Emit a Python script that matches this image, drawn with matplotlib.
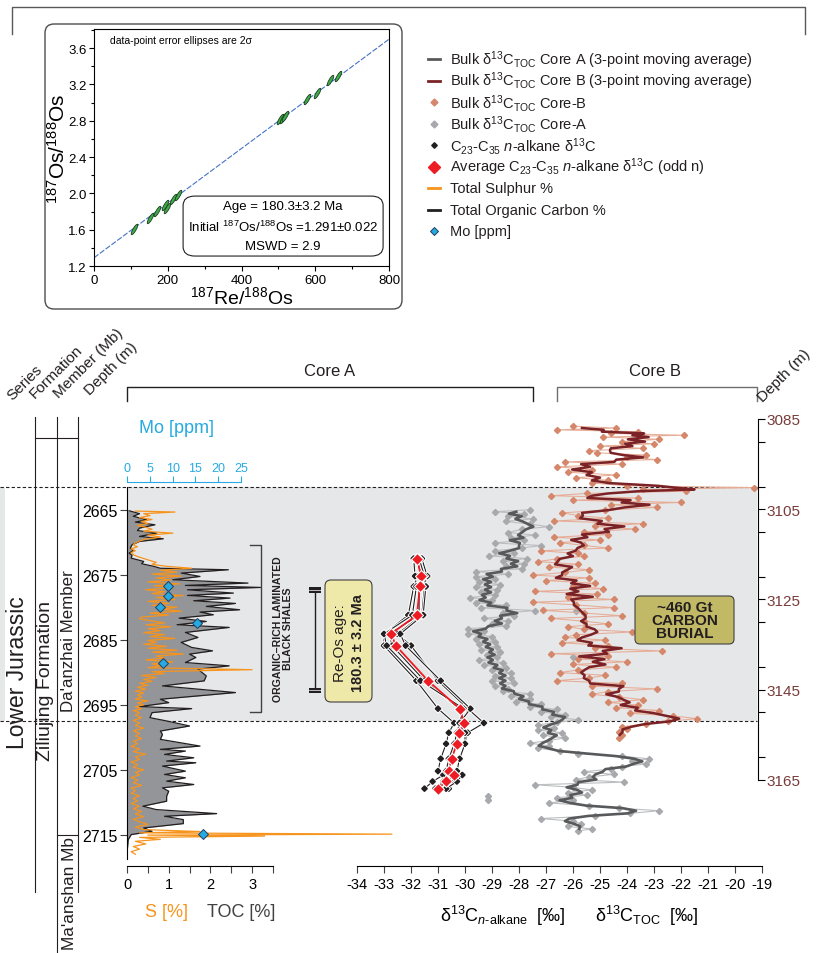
import matplotlib.pyplot as plt
import matplotlib.patheffects as pe
import numpy as np
from matplotlib.markers import MarkerStyle
from matplotlib.patches import FancyBboxPatch, Rectangle
from matplotlib.path import Path
from matplotlib.ticker import MultipleLocator
from matplotlib.transforms import Affine2D, blended_transform_factory

plt.rcParams['font.family'] = ['Liberation Sans', 'DejaVu Sans']
plt.rcParams['mathtext.fontset'] = 'custom'
plt.rcParams['mathtext.rm'] = 'Liberation Sans'
plt.rcParams['mathtext.it'] = 'Liberation Sans:italic'
plt.rcParams['mathtext.bf'] = 'Liberation Sans:bold'
plt.rcParams['axes.unicode_minus'] = False

# ---------------- Re-Os isochron ----------------
re_os_ratio = [109, 152, 172, 193, 197, 215, 227, 505, 512, 518, 577, 604, 640, 662]
os_os_ratio = [1.612, 1.733, 1.806, 1.869, 1.843, 1.935, 1.979,
               2.820, 2.835, 2.854, 3.040, 3.110, 3.247, 3.288]
iso_age, iso_age_err = 180.3, 3.2          # Ma
os_initial, os_initial_err = 1.291, 0.022
mswd = 2.9
RE187_DECAY = 1.666e-11                    # 1/yr

# ---------------- Core A: TOC, S, Mo ----------------
toc_depth = [2665.15, 2665.6, 2666.0, 2666.54, 2666.9, 2667.31, 2667.82, 2668.2, 2668.59, 2669.1,
             2669.46, 2669.87, 2670.38, 2670.9, 2671.3, 2671.67, 2672.0, 2672.44, 2672.95, 2673.3,
             2673.72, 2674.0, 2674.23, 2674.74, 2675.26, 2675.77, 2676.28, 2676.64, 2676.95, 2677.31,
             2677.82, 2678.18, 2678.59, 2679.0, 2679.41, 2679.87, 2680.38, 2680.74, 2681.15, 2681.67,
             2682.18, 2682.69, 2683.1, 2683.87, 2684.64, 2685.41, 2686.18, 2686.7, 2687.21, 2687.72,
             2688.5, 2689.01, 2689.52, 2690.04, 2690.55, 2691.32, 2692.1, 2693.12, 2694.15, 2694.67,
             2695.28, 2695.59, 2696.21, 2696.98, 2697.49, 2698.26, 2699.04, 2699.55, 2700.32, 2701.35,
             2701.86, 2702.12, 2702.64, 2703.15, 2703.66, 2703.92, 2704.43, 2705.21, 2705.72, 2706.23,
             2706.75, 2707.26, 2707.78, 2708.29, 2709.06, 2709.83, 2710.6, 2711.12, 2711.74, 2712.15,
             2712.66, 2713.28, 2713.95, 2714.46, 2714.97, 2715.74, 2717.8]
toc_pct = [0.05, 0.3, 0.15, 0.47, 0.2, 0.67, 0.3, 0.25, 0.71, 0.3,
           0.87, 0.3, 0.12, 0.08, 0.15, 0.05, 0.12, 0.1, 0.4, 0.35,
           0.65, 0.8, 2.43, 1.3, 1.75, 1.1, 2.9, 1.4, 3.2, 1.45,
           2.55, 1.45, 2.47, 1.6, 2.6, 1.9, 2.7, 1.75, 2.07, 1.25,
           1.9, 1.2, 2.45, 1.4, 1.7, 1.3, 1.55, 2.05, 1.5, 1.65,
           1.4, 2.45, 1.7, 1.8, 1.9, 1.85, 0.85, 2.6, 0.8, 1.0,
           0.3, 1.55, 0.6, 0.55, 0.95, 1.5, 0.8, 0.85, 0.8, 1.75,
           0.8, 1.4, 0.9, 1.6, 0.95, 1.65, 0.85, 1.4, 0.9, 1.4,
           0.95, 1.6, 0.85, 1.0, 0.95, 0.95, 0.38, 0.7, 2.15, 0.9,
           1.35, 1.35, 0.4, 0.6, 0.1, 0.03, 0.0]

s_depth = [2665.2, 2665.35, 2665.6, 2665.9, 2666.2, 2666.5, 2666.8, 2667.1, 2667.4, 2667.7,
           2668.0, 2668.3, 2668.6, 2668.9, 2669.2, 2669.5, 2669.8, 2670.1, 2670.4, 2670.7,
           2671.0, 2671.3, 2671.6, 2671.9, 2672.2, 2672.5, 2672.8, 2673.1, 2673.4, 2673.7,
           2674.0, 2674.3, 2674.6, 2674.9, 2675.2, 2675.5, 2675.8, 2676.1, 2676.4, 2676.7,
           2677.0, 2677.3, 2677.6, 2677.9, 2678.2, 2678.5, 2678.8, 2679.1, 2679.4, 2679.7,
           2680.0, 2680.3, 2680.6, 2680.9, 2681.2, 2681.5, 2681.8, 2682.1, 2682.4, 2682.7,
           2683.0, 2683.3, 2683.6, 2683.9, 2684.2, 2684.5, 2684.8, 2685.1, 2685.4, 2685.7,
           2686.0, 2686.3, 2686.6, 2686.9, 2687.2, 2687.5, 2687.8, 2688.1, 2688.4, 2688.7,
           2689.0, 2689.3, 2689.6, 2689.9, 2690.2, 2690.5, 2690.8, 2691.1, 2691.4, 2691.7,
           2692.0, 2692.3, 2692.6, 2692.9, 2693.2, 2693.5, 2693.8, 2694.1, 2694.4, 2694.7,
           2695.0, 2695.3, 2695.6, 2695.9, 2696.2, 2696.6, 2697.0, 2697.4, 2697.8, 2698.2,
           2698.6, 2699.0, 2699.4, 2699.8, 2700.2, 2700.6, 2701.0, 2701.4, 2701.8, 2702.2,
           2702.6, 2703.0, 2703.4, 2703.8, 2704.2, 2704.6, 2705.0, 2705.4, 2705.8, 2706.2,
           2706.6, 2707.0, 2707.4, 2707.8, 2708.2, 2708.6, 2709.0, 2709.4, 2709.8, 2710.2,
           2710.6, 2711.0, 2711.4, 2711.8, 2712.2, 2712.6, 2713.0, 2713.4, 2713.8, 2714.2,
           2714.5, 2714.7, 2714.9, 2715.05, 2715.2, 2715.4, 2715.7, 2716.0, 2716.4, 2716.8,
           2717.2, 2717.6, 2718.0]
s_pct = [0.2, 1.15, 0.4, 0.55, 0.3, 0.6, 0.35, 0.5, 0.25, 0.45,
         0.6, 0.4, 1.1, 0.5, 0.8, 0.45, 0.3, 0.2, 0.15, 0.25,
         0.1, 0.2, 0.1, 0.15, 0.25, 0.4, 0.55, 0.7, 0.6, 0.95,
         1.55, 0.8, 1.2, 0.6, 1.3, 0.7, 1.05, 0.5, 1.25, 0.65,
         1.1, 0.45, 0.9, 0.6, 1.35, 0.7, 1.15, 0.5, 1.0, 0.6,
         1.2, 0.8, 1.3, 0.55, 1.0, 0.35, 0.3, 0.6, 0.9, 0.45,
         1.05, 0.5, 0.8, 0.4, 0.9, 0.55, 1.15, 0.5, 0.7, 0.4,
         0.95, 0.5, 1.2, 0.6, 1.35, 0.7, 0.9, 0.45, 1.1, 0.6,
         0.8, 0.5, 3.0, 0.6, 0.9, 0.35, 0.7, 0.4, 0.6, 0.3,
         0.5, 0.25, 0.45, 0.2, 0.4, 0.25, 0.35, 0.2, 0.5, 0.25,
         0.4, 0.2, 0.35, 0.15, 0.3, 0.2, 0.35, 0.15, 0.3, 0.2,
         0.4, 0.15, 0.3, 0.2, 0.35, 0.15, 0.25, 0.1, 0.3, 0.15,
         0.45, 0.2, 0.3, 0.1, 0.25, 0.15, 0.4, 0.2, 0.3, 0.1,
         0.25, 0.15, 0.35, 0.1, 0.2, 0.1, 0.3, 0.15, 0.25, 0.1,
         0.3, 0.15, 0.35, 0.2, 0.4, 0.15, 0.3, 0.5, 0.2, 0.4,
         1.75, 0.3, 6.35, 0.5, 3.3, 0.3, 0.8, 0.2, 0.45, 0.15,
         0.3, 0.1, 0.2]

mo_depth = [2676.7, 2678.2, 2679.9, 2682.4, 2688.5, 2714.85]
mo_ppm = [9.0, 9.0, 7.3, 15.3, 7.9, 16.7]

# ---------------- Core A: bulk d13C TOC ----------------
core_a_depth = [2665.0, 2665.3, 2665.6, 2666.0, 2666.4, 2666.8, 2667.2, 2667.6, 2668.0, 2668.5,
                2668.9, 2669.3, 2669.7, 2670.1, 2670.5, 2670.9, 2671.3, 2671.7, 2672.1, 2672.5,
                2672.9, 2673.3, 2673.7, 2674.1, 2674.5, 2674.9, 2675.3, 2675.7, 2676.1, 2676.5,
                2676.9, 2677.3, 2677.7, 2678.1, 2678.5, 2678.9, 2679.3, 2679.7, 2680.1, 2680.5,
                2680.9, 2681.3, 2681.7, 2682.1, 2682.5, 2682.9, 2683.3, 2683.7, 2684.1, 2684.5,
                2684.9, 2685.3, 2685.7, 2686.1, 2686.5, 2686.9, 2687.3, 2687.7, 2688.1, 2688.5,
                2688.9, 2689.3, 2689.7, 2690.1, 2690.5, 2690.9, 2691.3, 2691.7, 2692.1, 2692.5,
                2692.9, 2693.3, 2693.7, 2694.1, 2694.5, 2694.9, 2695.3, 2695.7, 2696.1, 2696.5,
                2696.9, 2697.3, 2697.7, 2698.1, 2698.5, 2698.9, 2699.3, 2699.7, 2700.1, 2700.5,
                2700.9, 2701.3, 2701.7, 2702.1, 2702.5, 2702.9, 2703.3, 2703.7, 2704.1, 2704.5,
                2704.9, 2705.3, 2705.7, 2706.1, 2706.5, 2706.9, 2707.3, 2707.7, 2708.1, 2708.5,
                2708.9, 2709.3, 2709.7, 2710.1, 2710.5, 2710.9, 2711.3, 2711.7, 2712.1, 2712.5,
                2712.9, 2713.3, 2713.7, 2714.1, 2714.4]
core_a_d13c = [-27.6, -28.9, -27.8, -28.4, -27.5, -28.5, -27.6, -26.9, -27.9, -28.4,
               -27.4, -28.3, -27.8, -28.9, -27.2, -27.9, -28.9, -28.2, -29.1, -27.7,
               -28.6, -27.8, -28.5, -27.9, -29.6, -28.4, -29.6, -28.9, -29.5, -28.7,
               -29.6, -28.8, -29.4, -28.9, -29.8, -29.0, -29.6, -28.5, -29.4, -27.4,
               -28.6, -28.2, -29.3, -28.4, -29.0, -28.5, -29.9, -29.3, -29.9, -29.0,
               -29.6, -28.9, -29.5, -28.8, -29.4, -28.7, -29.2, -28.8, -29.5, -28.6,
               -29.3, -28.5, -29.0, -28.3, -28.9, -28.3, -29.0, -28.2, -28.9, -28.4,
               -28.6, -27.6, -28.3, -27.6, -28.1, -27.2, -27.6, -26.6, -27.2, -26.3,
               -26.8, -25.8, -26.6, -27.3, -26.7, -27.3, -26.4, -27.1, -26.3, -26.9,
               -27.6, -26.9, -27.3, -26.5, -25.8, -24.2, -23.2, -23.8, -23.3, -24.2,
               -24.6, -25.6, -24.5, -25.4, -25.9, -24.1, -27.4, -26.0, -25.3, -26.2,
               -25.5, -26.6, -26.0, -26.9, -25.4, -24.3, -22.8, -23.9, -25.2, -27.2,
               -26.0, -25.7, -26.2, -25.3, -25.8]
# isolated Core A samples, not part of the continuous profile
core_a_single_depth = [2680.5, 2687.6, 2709.0, 2709.7]
core_a_single_d13c = [-25.9, -26.0, -29.15, -29.15]

# ---------------- Core A: n-alkanes (C23..C35, five odd homologues) ----------------
alk_depth = [2672.5, 2675.2, 2676.8, 2681.2, 2684.1, 2685.9, 2691.3, 2695.6,
             2697.8, 2699.3, 2701.0, 2703.3, 2705.2, 2705.8, 2706.8, 2707.9]
alk_d13c = [[-31.9, -31.6, -31.8, -31.7, -31.9],
            [-31.8, -31.4, -31.6, -31.5, -31.85],
            [-31.9, -31.5, -31.7, -31.45, -31.8],
            [-32.1, -31.6, -31.7, -31.55, -31.95],
            [-33.0, -32.5, -32.8, -32.4, -33.0],
            [-33.0, -32.0, -32.7, -32.2, -32.9],
            [-31.8, -31.0, -31.5, -30.9, -31.65],
            [-31.0, -29.9, -30.2, -29.8, -30.05],
            [-30.4, -29.3, -30.1, -30.2, -30.2],
            [-30.6, -29.9, -30.3, -30.0, -30.3],
            [-30.7, -30.0, -30.4, -30.0, -30.4],
            [-30.9, -30.2, -30.6, -30.2, -30.6],
            [-31.0, -30.3, -30.7, -30.3, -30.7],
            [-30.8, -30.1, -30.5, -30.1, -30.5],
            [-31.2, -30.4, -30.8, -30.3, -30.8],
            [-31.5, -30.6, -31.1, -30.7, -31.1]]

# ---------------- Core B: bulk d13C TOC ----------------
core_b_depth = [3086.6, 3087.0, 3087.4, 3087.8, 3088.2, 3088.6, 3089.0, 3089.5, 3090.0, 3090.5,
                3091.0, 3091.5, 3092.0, 3092.5, 3093.0, 3093.5, 3094.0, 3094.5, 3095.0, 3095.6,
                3096.2, 3096.8, 3097.4, 3098.0, 3098.6, 3099.2, 3099.8, 3100.2, 3100.6, 3101.0,
                3101.5, 3102.0, 3102.5, 3103.0, 3103.5, 3104.0, 3104.6, 3105.2, 3105.8, 3106.4,
                3107.0, 3107.6, 3108.2, 3108.8, 3109.4, 3110.0, 3110.6, 3111.2, 3111.8, 3112.4,
                3113.0, 3113.6, 3114.2, 3114.8, 3115.4, 3116.0, 3116.6, 3117.2, 3117.8, 3118.4,
                3119.0, 3119.6, 3120.2, 3120.8, 3121.4, 3122.0, 3122.6, 3123.2, 3123.8, 3124.4,
                3125.0, 3125.6, 3126.2, 3126.8, 3127.4, 3128.0, 3128.6, 3129.2, 3129.8, 3130.4,
                3131.0, 3131.6, 3132.2, 3132.8, 3133.4, 3134.0, 3134.6, 3135.2, 3135.8, 3136.4,
                3137.0, 3137.6, 3138.2, 3138.8, 3139.4, 3140.0, 3140.6, 3141.2, 3141.8, 3142.4,
                3143.0, 3143.6, 3144.2, 3144.8, 3145.4, 3146.0, 3146.6, 3147.2, 3147.8, 3148.4,
                3149.0, 3149.6, 3150.2, 3150.8, 3151.4, 3152.0, 3152.6, 3153.2, 3153.8, 3154.4,
                3155.0, 3155.6]
core_b_d13c = [-26.0, -24.4, -26.6, -23.6, -24.6, -21.9, -24.9, -22.8, -24.2, -23.0,
               -25.0, -23.4, -25.4, -25.1, -23.3, -24.0, -22.9, -26.3, -24.2, -26.6,
               -25.3, -26.2, -24.4, -25.9, -24.7, -25.3, -24.0, -19.3, -23.4, -21.8,
               -25.5, -26.8, -23.6, -26.0, -22.0, -24.6, -22.9, -24.8, -26.4, -25.8,
               -24.7, -26.7, -23.4, -25.2, -23.7, -25.6, -24.7, -26.7, -25.0, -26.5,
               -25.6, -24.7, -27.2, -25.8, -25.6, -26.6, -27.3, -25.8, -26.9, -25.4,
               -26.3, -27.5, -25.4, -27.0, -25.2, -26.0, -24.9, -27.4, -25.1, -26.2,
               -24.5, -27.5, -25.9, -24.5, -27.1, -25.6, -24.2, -26.8, -25.6, -24.7,
               -26.2, -25.6, -23.8, -25.9, -26.3, -24.8, -26.4, -24.7, -25.2, -22.7,
               -26.8, -24.7, -25.8, -24.0, -26.0, -24.4, -25.8, -26.5, -24.8, -25.4,
               -26.6, -24.2, -25.3, -22.9, -24.7, -25.3, -24.3, -23.4, -24.7, -23.6,
               -24.4, -22.8, -23.9, -22.3, -21.4, -22.5, -23.3, -24.2, -24.0, -24.3,
               -24.2, -24.3]

# correlated horizons (Core A depth) bounding the carbon-burial interval
horizon_a = [2661.5, 2697.5]
black_shale_a = [2670.4, 2696.1]
reos_sampled_a = [2677.3, 2692.8]
maanshan_top_a = 2715.1

# depth windows of the two core panels
CORE_A_TOP, CORE_A_BOT = 2661.5, 2719.8
CORE_B_TOP, CORE_B_BOT = 3085, 3165

# colours
GREY_BAND = '#e6e7e8'
TOC_FILL = '#939598'
S_ORANGE = '#f7941d'
MO_BLUE = '#27aae1'
A_RAW = '#a7a9ac'
A_MA = '#58595b'
B_RAW = '#d4876b'
B_MA = '#7b2226'
ALK_RED = '#ed1c24'
B_DEPTH_TXT = '#7a3b3b'


def moving_average3(v):
    return np.convolve(v, np.ones(3) / 3, mode='valid')


W, H = 822, 954
fig = plt.figure(figsize=(W / 100, H / 100), dpi=100)


def px_axes(x0, y0, x1, y1):
    # axes from a pixel box measured from the top-left corner
    return fig.add_axes([x0 / W, 1 - y1 / H, (x1 - x0) / W, (y1 - y0) / H])


def canvas(z):
    ax = px_axes(0, 0, W, H)
    ax.set_xlim(0, W)
    ax.set_ylim(H, 0)
    ax.axis('off')
    ax.set_zorder(z)
    return ax


ax_bg = canvas(0)

# ---------------- isochron panel ----------------
ax_bg.add_patch(FancyBboxPatch((45, 25), 357, 285, boxstyle='round,pad=0,rounding_size=9',
                               fc='none', ec='#4d4d4f', lw=1))
ax_bg.plot([12, 12, 805, 805], [35, 8, 8, 35], color='#58595b', lw=1)

ax_iso = px_axes(94, 30, 389, 267)
ax_iso.set_zorder(2)
slope = np.expm1(RE187_DECAY * iso_age * 1e6)
xr = np.array([0, 800])
ax_iso.plot(xr, os_initial + slope * xr, color='#4472c4', lw=0.8, ls=(0, (5, 1.5)))
ell = Path.unit_circle().transformed(Affine2D().scale(0.26, 1.0).rotate_deg(-30))
ax_iso.scatter(re_os_ratio, os_os_ratio, marker=MarkerStyle(ell), s=60,
               fc='#3cae49', ec='#1f3b1f', lw=0.6, zorder=3)
ax_iso.set_xlim(0, 800)
ax_iso.set_ylim(1.2, 3.81)
ax_iso.set_xticks([0, 200, 400, 600, 800])
ax_iso.xaxis.set_minor_locator(MultipleLocator(100))
ax_iso.set_yticks([1.2, 1.6, 2.0, 2.4, 2.8, 3.2, 3.6])
ax_iso.yaxis.set_minor_locator(MultipleLocator(0.2))
ax_iso.tick_params(which='both', labelsize=9.5, length=3.5, width=0.8, pad=2)
ax_iso.tick_params(which='minor', length=2.5)
ax_iso.set_xlabel(r'$^{187}$Re/$^{188}$Os', fontsize=14, labelpad=0)
ax_iso.set_ylabel(r'$^{187}$Os/$^{188}$Os', fontsize=15, labelpad=-1)
ax_iso.text(0.055, 0.975, 'data-point error ellipses are 2σ', transform=ax_iso.transAxes,
            fontsize=7.5, ha='left', va='top')
ax_iso.add_patch(FancyBboxPatch((0.302, 0.042), 0.678, 0.253, transform=ax_iso.transAxes,
                                boxstyle='round,pad=0,rounding_size=0.04', fc='white',
                                ec='#231f20', lw=0.8))
iso_lines = [f'Age = {iso_age}±{iso_age_err} Ma',
             rf'Initial $^{{187}}$Os/$^{{188}}$Os ={os_initial:.3f}±{os_initial_err:.3f}',
             f'MSWD = {mswd}']
for k, txt in enumerate(iso_lines):
    ax_iso.text(0.641, 0.253 - 0.084 * k, txt, transform=ax_iso.transAxes,
                fontsize=9.5, ha='center', va='center')

# ---------------- core panels ----------------
ax_toc = px_axes(127, 488, 273, 867)
ax_d13 = px_axes(357, 488, 762, 867)
ax_b = px_axes(357, 420, 762, 781)
for ax, z in ((ax_toc, 2), (ax_d13, 2), (ax_b, 3)):
    ax.set_facecolor('none')
    ax.set_zorder(z)

tr_a = blended_transform_factory(ax_bg.transData, ax_toc.transData)

# grey carbon-burial interval and its bounding horizons
ax_bg.add_patch(Rectangle((127, horizon_a[0]), 630, horizon_a[1] - horizon_a[0],
                          transform=tr_a, fc=GREY_BAND, ec='none'))
ax_bg.add_patch(Rectangle((0, horizon_a[0]), 5, horizon_a[1] - horizon_a[0],
                          transform=tr_a, fc=GREY_BAND, ec='none'))
for d in horizon_a:
    ax_bg.plot([0, 757], [d, d], transform=tr_a, color='#231f20', lw=0.8, ls=(0, (3, 2)))

# stratigraphic columns
for x, y1 in ((35, 893), (57, 954), (78, 893)):
    ax_bg.plot([x, x], [418, y1], color='#231f20', lw=0.8)
ax_bg.plot([35, 78], [439, 439], color='#231f20', lw=0.8)
ax_bg.plot([57, 78], [maanshan_top_a, maanshan_top_a], transform=tr_a, color='#231f20', lw=0.8)
ax_bg.text(18, 673, 'Lower Jurassic', rotation=90, fontsize=16.5, ha='center', va='center',
           color='#231f20')
ax_bg.text(46, 681, 'Ziliujing Formation', rotation=90, fontsize=14, ha='center',
           va='center', color='#231f20')
ax_bg.text(68, 641, "Da'anzhai Member", rotation=90, fontsize=12.2, ha='center',
           va='center', color='#231f20')
ax_bg.text(69, 894, "Ma'anshan Mb", rotation=90, fontsize=12.4, ha='center', va='center',
           color='#231f20')
for x, y, txt in ((14, 403, 'Series'), (37, 401, 'Formation'), (61, 401, 'Member (Mb)'),
                  (92, 398, 'Depth (m)'), (765, 405, 'Depth (m)')):
    ax_bg.text(x, y, txt, rotation=45, rotation_mode='anchor', ha='left', va='bottom',
               fontsize=11, color='#231f20')

# core headers
ax_bg.plot([127, 127, 533, 533], [402, 388, 388, 402], color='#231f20', lw=1)
ax_bg.plot([557, 557, 757, 757], [402, 388, 388, 402], color='#6d6e71', lw=1)
ax_bg.text(330, 372, 'Core A', fontsize=12, ha='center', va='center', color='#231f20')
ax_bg.text(655, 372, 'Core B', fontsize=12, ha='center', va='center', color='#231f20')

# black shale interval and Re-Os sampled interval
ax_bg.plot([250, 261, 261, 250], [black_shale_a[0], black_shale_a[0],
                                  black_shale_a[1], black_shale_a[1]],
           transform=tr_a, color='#414042', lw=1)
ax_bg.text(283, 629, 'ORGANIC–RICH LAMINATED\nBLACK SHALES', rotation=90, fontsize=7.6,
           fontweight='bold', ha='center', va='center', linespacing=1.05, color='#231f20')
ax_bg.plot([315, 315], reos_sampled_a, transform=tr_a, color='#231f20', lw=1)
for d in reos_sampled_a:
    ax_bg.add_patch(Rectangle((309, d - 0.45), 12, 0.9, transform=tr_a, fc='#231f20', ec='none'))
    ax_bg.plot([309, 321], [d, d], transform=tr_a, color='white', lw=0.5)

# TOC / S
ax_toc.fill_betweenx(toc_depth, 0, toc_pct, color=TOC_FILL, lw=0)
ax_toc.plot(toc_pct, toc_depth, color='#231f20', lw=0.9)
ax_toc.plot(s_pct, s_depth, color=S_ORANGE, lw=0.9, clip_on=False)
ax_toc.set_xlim(0, 3.5)
ax_toc.set_ylim(CORE_A_BOT, CORE_A_TOP)
for side in ('top', 'right'):
    ax_toc.spines[side].set_visible(False)
ax_toc.spines['left'].set_bounds(CORE_A_BOT - 1.1, CORE_A_TOP)
ax_toc.set_yticks([2665, 2675, 2685, 2695, 2705, 2715])
ax_toc.xaxis.set_major_locator(MultipleLocator(1))
ax_toc.xaxis.set_minor_locator(MultipleLocator(0.5))
ax_toc.tick_params(which='both', length=5, width=0.8, color='#414042')
ax_toc.tick_params(axis='y', labelsize=11.5, pad=2)
ax_toc.tick_params(axis='x', labelsize=10.5, pad=3)
ax_bg.text(166, 913, 'S [%]', color=S_ORANGE, fontsize=13, ha='center', va='center')
ax_bg.text(241, 913, 'TOC [%]', color='#414042', fontsize=13, ha='center', va='center')

# Mo on its own top scale
ax_mo = ax_toc.twiny()
ax_mo.set_xlim(0, 32.0)          # 0-25 ppm spans the left part of the panel
for side in ('left', 'right', 'bottom'):
    ax_mo.spines[side].set_visible(False)
ax_mo.spines['top'].set_position(('outward', 3.6))
ax_mo.spines['top'].set_bounds(0, 25)
ax_mo.spines['top'].set_color(MO_BLUE)
ax_mo.set_xticks([0, 5, 10, 15, 20, 25])
ax_mo.tick_params(axis='x', colors=MO_BLUE, labelsize=9, length=4, width=0.8, pad=2)
ax_mo.plot(mo_ppm, mo_depth, ls='none', marker='D', ms=5, mfc=MO_BLUE, mec='#1d3f63',
           mew=0.7, zorder=5)
ax_mo.set_xlabel('Mo [ppm]', color=MO_BLUE, fontsize=13)
ax_mo.xaxis.set_label_coords(0.342, 1.145)

# Core A d13C: bulk TOC and n-alkanes
ax_d13.plot(core_a_d13c, core_a_depth, color='#bcbec0', lw=0.8, marker='D', ms=3.1,
            mfc=A_RAW, mec=A_RAW)
ax_d13.plot(core_a_single_d13c, core_a_single_depth, ls='none', marker='D', ms=3.1,
            mfc=A_RAW, mec=A_RAW)
ax_d13.plot(moving_average3(core_a_d13c), core_a_depth[1:-1], color=A_MA, lw=1.9)

alk = np.array(alk_d13c)
halo = [pe.withStroke(linewidth=2.2, foreground='white')]
for series in alk.T:
    ax_d13.plot(series, alk_depth, color='#231f20', lw=0.8, marker='D', ms=2.8,
                path_effects=halo)
ax_d13.plot(alk.mean(axis=1), alk_depth, color=ALK_RED, lw=1.3, marker='D', ms=6.3,
            mfc=ALK_RED, mec='white', mew=0.8, zorder=4)
ax_d13.set_xlim(-34, -19)
ax_d13.set_ylim(CORE_A_BOT, CORE_A_TOP)
for side in ('top', 'right', 'left'):
    ax_d13.spines[side].set_visible(False)
ax_d13.set_yticks([])
ax_d13.set_xticks(range(-34, -18))
ax_d13.tick_params(axis='x', length=5, width=0.8, labelsize=10.5, pad=3, color='#414042')
ax_bg.text(503, 916, r'δ$^{13}$C$_{n\text{-alkane}}$  [‰]', fontsize=13, ha='center',
           va='center')
ax_bg.text(647, 916, r'δ$^{13}$C$_{\mathrm{TOC}}$  [‰]', fontsize=13, ha='center', va='center')

# Core B d13C
ax_b.plot(core_b_d13c, core_b_depth, color='#e6ac96', lw=0.75, marker='D', ms=3.1,
          mfc=B_RAW, mec=B_RAW)
ax_b.plot(moving_average3(core_b_d13c), core_b_depth[1:-1], color=B_MA, lw=1.8)
ax_b.set_xlim(-34, -19)
ax_b.set_ylim(CORE_B_BOT, CORE_B_TOP)
for side in ('top', 'left', 'bottom'):
    ax_b.spines[side].set_visible(False)
ax_b.spines['right'].set_position(('data', -19.15))
ax_b.spines['right'].set_bounds(CORE_B_TOP, CORE_B_BOT)
ax_b.set_xticks([])
ax_b.yaxis.tick_right()
ax_b.set_yticks([3085, 3105, 3125, 3145, 3165])
ax_b.yaxis.set_minor_locator(MultipleLocator(10))
ax_b.tick_params(axis='y', which='both', length=5, width=0.8, labelsize=11, pad=1,
                 labelcolor=B_DEPTH_TXT)

# ---------------- foreground labels and legend ----------------
ax_fg = canvas(10)
ax_fg.add_patch(FancyBboxPatch((325, 581), 47, 122, boxstyle='round,pad=0,rounding_size=6',
                               fc='#eee8a9', ec='#414042', lw=0.8))
ax_fg.text(340, 643, 'Re-Os age:', rotation=90, fontsize=11, ha='center', va='center',
           color='#231f20')
ax_fg.text(358, 643, f'{iso_age} ± {iso_age_err} Ma', rotation=90, fontsize=10.5,
           fontweight='bold', ha='center', va='center', color='#231f20')
ax_fg.add_patch(FancyBboxPatch((635, 597), 99, 48, boxstyle='round,pad=0,rounding_size=5',
                               fc='#c2b966', ec='#414042', lw=0.8))
ax_fg.text(684.5, 621, '~460 Gt\nCARBON\nBURIAL', fontsize=11, fontweight='bold',
           ha='center', va='center', linespacing=0.95, color='#231f20')

legend_rows = [
    (dict(color=A_MA, lw=2), r'Bulk δ$^{13}$C$_{\mathrm{TOC}}$ Core A (3-point moving average)'),
    (dict(color=B_MA, lw=2), r'Bulk δ$^{13}$C$_{\mathrm{TOC}}$ Core B (3-point moving average)'),
    (dict(marker='D', ms=3.5, color=B_RAW), r'Bulk δ$^{13}$C$_{\mathrm{TOC}}$ Core-B'),
    (dict(marker='D', ms=3.5, color=A_RAW), r'Bulk δ$^{13}$C$_{\mathrm{TOC}}$ Core-A'),
    (dict(marker='D', ms=2.8, color='#231f20'), r'C$_{23}$-C$_{35}$ $n$-alkane δ$^{13}$C'),
    (dict(marker='D', ms=6.5, color=ALK_RED),
     r'Average C$_{23}$-C$_{35}$ $n$-alkane δ$^{13}$C (odd n)'),
    (dict(color=S_ORANGE, lw=2), 'Total Sulphur %'),
    (dict(color='#231f20', lw=2), 'Total Organic Carbon %'),
    (dict(marker='D', ms=4.5, mfc=MO_BLUE, mec='#1d3f63', mew=0.7), 'Mo [ppm]'),
]
for i, (style, label) in enumerate(legend_rows):
    y = 60 + 21.5 * i
    if 'marker' in style:
        ax_fg.plot([434], [y], ls='none', **style)
    else:
        ax_fg.plot([428, 440], [y, y], **style)
    ax_fg.text(450, y, label, fontsize=10.5, ha='left', va='center', color='#231f20')

fig.savefig('out.png', dpi=100)
